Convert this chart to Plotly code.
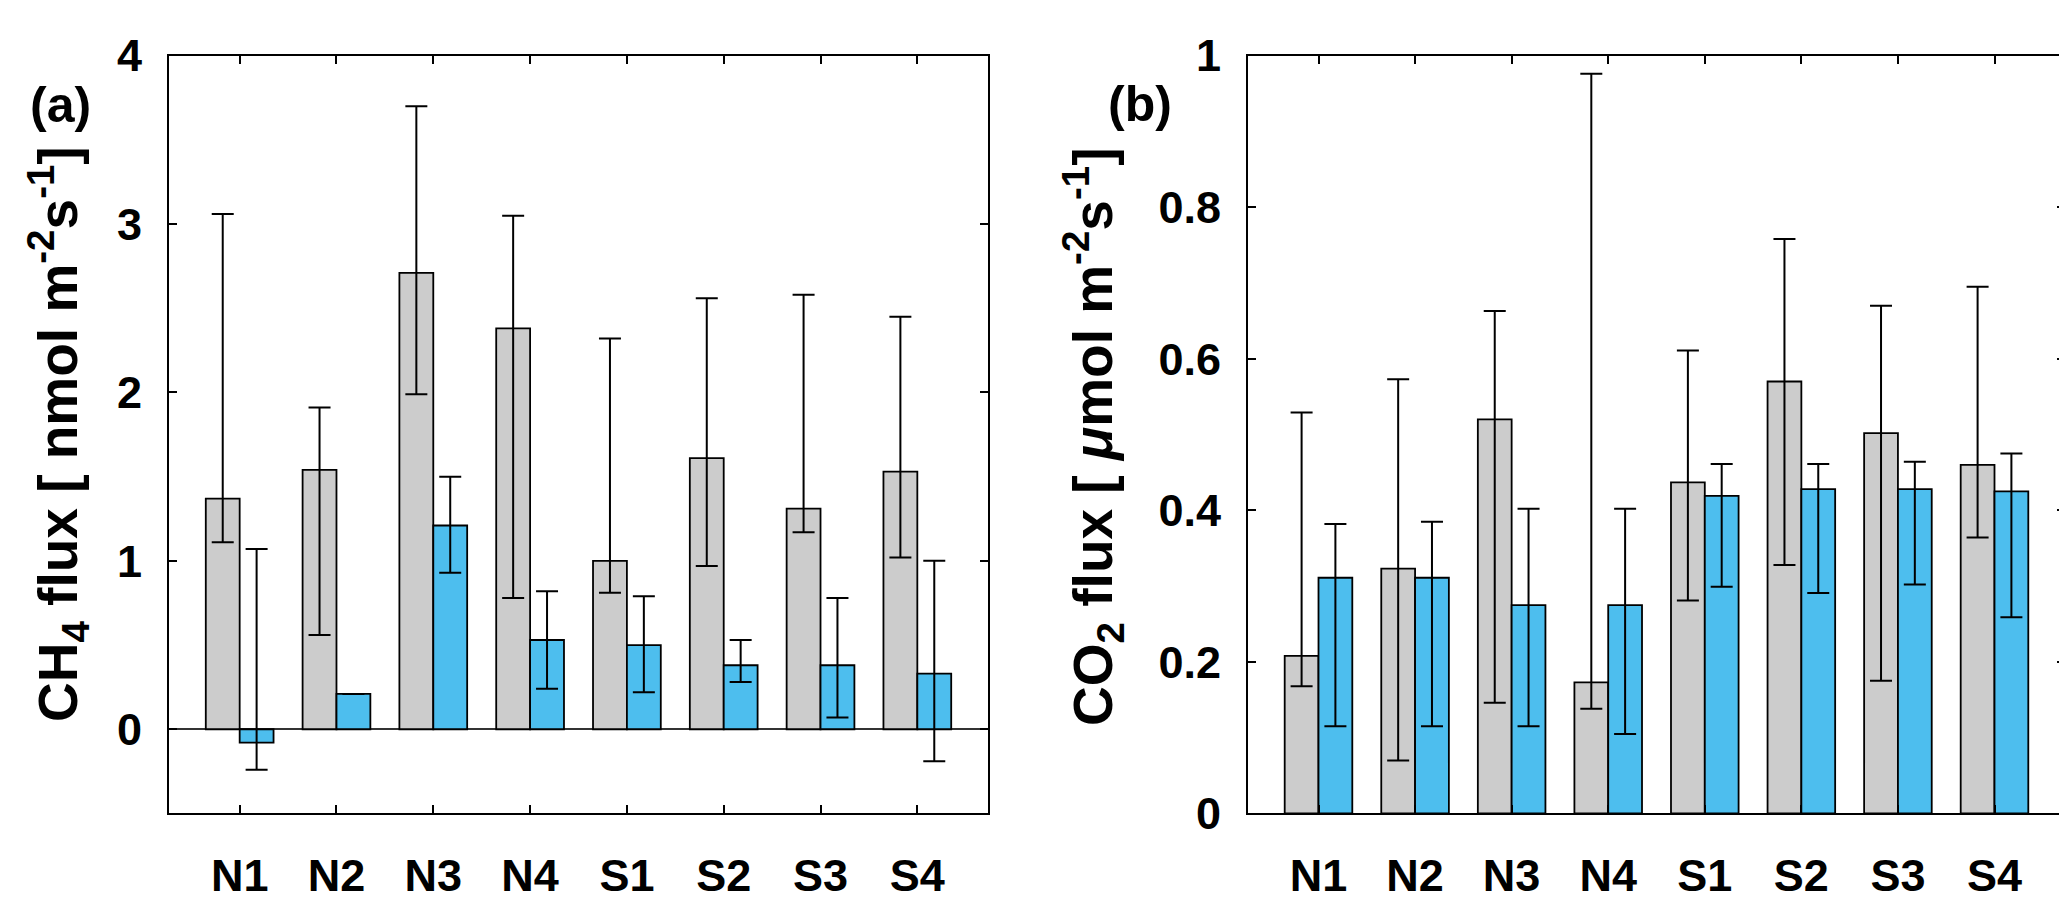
import plotly.graph_objects as go

sites = ["N1", "N2", "N3", "N4", "S1", "S2", "S3", "S4"]

# Panel (a) CH4 flux
ch4_grey = [1.37, 1.54, 2.71, 2.38, 1.00, 1.61, 1.31, 1.53]
ch4_grey_lo = [1.11, 0.56, 1.99, 0.78, 0.81, 0.97, 1.17, 1.02]
ch4_grey_hi = [3.06, 1.91, 3.70, 3.05, 2.32, 2.56, 2.58, 2.45]
ch4_blue = [-0.08, 0.21, 1.21, 0.53, 0.50, 0.38, 0.38, 0.33]
ch4_blue_lo = [-0.24, None, 0.93, 0.24, 0.22, 0.28, 0.07, -0.19]
ch4_blue_hi = [1.07, None, 1.50, 0.82, 0.79, 0.53, 0.78, 1.00]

# Panel (b) CO2 flux
co2_grey = [0.208, 0.323, 0.520, 0.173, 0.437, 0.570, 0.502, 0.460]
co2_grey_lo = [0.168, 0.070, 0.146, 0.138, 0.281, 0.328, 0.175, 0.364]
co2_grey_hi = [0.529, 0.573, 0.663, 0.976, 0.611, 0.758, 0.670, 0.695]
co2_blue = [0.311, 0.311, 0.275, 0.275, 0.419, 0.428, 0.428, 0.425]
co2_blue_lo = [0.115, 0.115, 0.115, 0.105, 0.299, 0.291, 0.302, 0.259]
co2_blue_hi = [0.382, 0.385, 0.402, 0.402, 0.461, 0.461, 0.464, 0.475]

GREY = "#cccccc"
BLUE = "#4dbeee"
FONT = "Arial, Liberation Sans, Helvetica, sans-serif"

W, H = 2067, 906
xpos = list(range(1, len(sites) + 1))


def err(vals, lo, hi):
    plus = [None if h is None else h - v for v, h in zip(vals, hi)]
    minus = [None if l is None else v - l for v, l in zip(vals, lo)]
    return dict(type="data", symmetric=False, array=plus, arrayminus=minus,
                color="black", thickness=2, width=11, visible=True)


def bar(vals, lo, hi, color, xa, ya):
    return go.Bar(x=xpos, y=vals, marker=dict(color=color, line=dict(color="black", width=1.8)),
                  error_y=err(vals, lo, hi), xaxis=xa, yaxis=ya, showlegend=False)


fig = go.Figure()
fig.add_trace(bar(ch4_grey, ch4_grey_lo, ch4_grey_hi, GREY, "x", "y"))
fig.add_trace(bar(ch4_blue, ch4_blue_lo, ch4_blue_hi, BLUE, "x", "y"))
fig.add_trace(bar(co2_grey, co2_grey_lo, co2_grey_hi, GREY, "x2", "y2"))
fig.add_trace(bar(co2_blue, co2_blue_lo, co2_blue_hi, BLUE, "x2", "y2"))

tickfont = dict(family=FONT, size=45, color="black", weight="bold")
common_x = dict(tickvals=xpos, ticktext=sites, range=[0.27, 8.73], showline=True,
                linecolor="black", linewidth=2, mirror="allticks", ticks="inside",
                ticklen=8, tickwidth=1.5, tickcolor="black", showgrid=False,
                zeroline=False, tickfont=tickfont, ticklabelstandoff=22,
                ticklabeloverflow="allow")
common_y = dict(showline=True, linecolor="black", linewidth=2, mirror="allticks",
                ticks="inside", ticklen=8, tickwidth=1.5, tickcolor="black",
                showgrid=False, tickfont=tickfont, ticklabelstandoff=16,
                ticklabeloverflow="allow")

ydom = [1 - 827 / H, 1 - 24 / H]
fig.update_layout(
    width=W, height=H,
    margin=dict(l=0, r=0, t=0, b=0),
    paper_bgcolor="white", plot_bgcolor="white",
    barmode="group", bargap=0.3, bargroupgap=0,
    xaxis=dict(domain=[161 / W, 980 / W], anchor="y", **common_x),
    yaxis=dict(domain=ydom, anchor="x", range=[-0.5, 4], tickvals=[0, 1, 2, 3, 4],
               zeroline=True, zerolinecolor="#333333", zerolinewidth=1.5, **common_y),
    xaxis2=dict(domain=[1240 / W, 2057 / W], anchor="y2", **common_x),
    yaxis2=dict(domain=ydom, anchor="x2", range=[0, 1], tickvals=[0, 0.2, 0.4, 0.6, 0.8, 1],
                zeroline=False, **common_y),
    font=dict(family=FONT, color="black"),
)

title_font = dict(family=FONT, size=55, color="black", weight="bold")
fig.add_annotation(text="CH<sub>4</sub> flux [ nmol m<sup>-2</sup>s<sup>-1</sup>]",
                   textangle=-90, x=50 / W, y=1 - 425 / H, xref="paper", yref="paper",
                   xanchor="center", yanchor="middle", showarrow=False, font=title_font)
fig.add_annotation(text="CO<sub>2</sub> flux [ <i>μ</i>mol m<sup>-2</sup>s<sup>-1</sup>]",
                   textangle=-90, x=1085 / W, y=1 - 428 / H, xref="paper", yref="paper",
                   xanchor="center", yanchor="middle", showarrow=False, font=title_font)
label_font = dict(family=FONT, size=50, color="black", weight="bold")
fig.add_annotation(text="(a)", x=52 / W, y=1 - 76 / H, xref="paper", yref="paper",
                   xanchor="center", yanchor="middle", showarrow=False, font=label_font)
fig.add_annotation(text="(b)", x=1132 / W, y=1 - 75 / H, xref="paper", yref="paper",
                   xanchor="center", yanchor="middle", showarrow=False, font=label_font)

fig.write_html("out.html")
